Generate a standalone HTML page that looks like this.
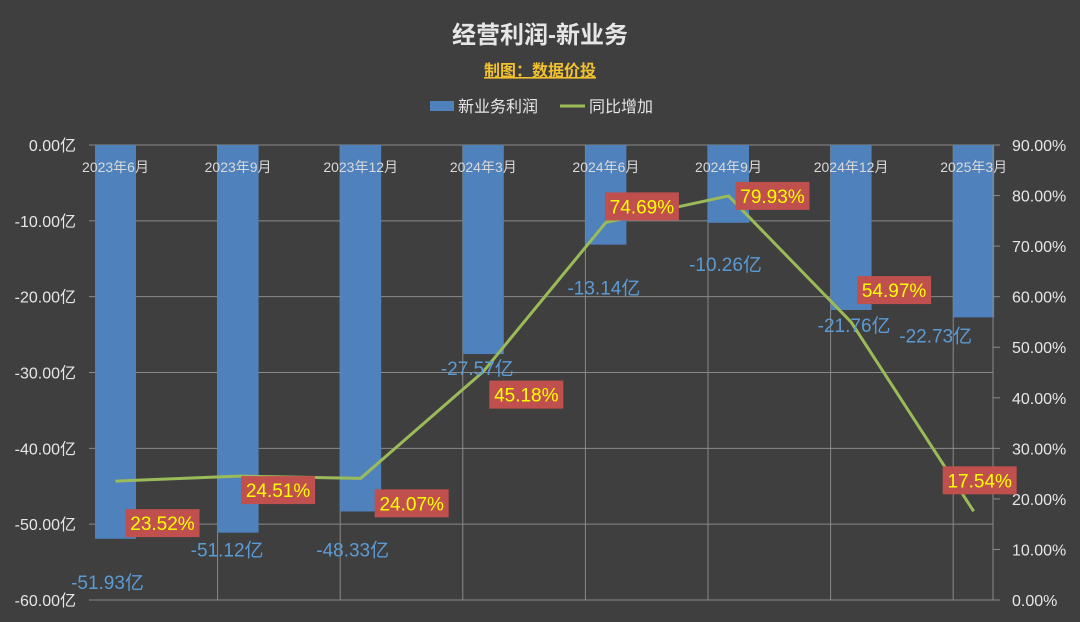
<!DOCTYPE html>
<html><head><meta charset="utf-8"><style>
body{margin:0;background:#3f3f3f;}
svg{display:block;font-family:"Liberation Sans","Noto Sans CJK SC",sans-serif;}
</style></head><body>
<svg id="c" width="1080" height="622">
<rect x="0" y="0" width="1080" height="622" fill="#3f3f3f"/>
<text x="540" y="43" text-anchor="middle" fill="#e6e6e6" font-size="24" font-weight="bold">经营利润-新业务</text>
<text x="540" y="76" text-anchor="middle" fill="#f2c12e" font-size="16" font-weight="bold" text-decoration="underline">制图：数据价投</text>
<g>
<rect x="430" y="101" width="24" height="10" fill="#4f81bd"/>
<text x="458" y="112" fill="#e6e6e6" font-size="16">新业务利润</text>
<line x1="560" y1="106" x2="585" y2="106" stroke="#9bbb59" stroke-width="3"/>
<text x="589" y="112" fill="#e6e6e6" font-size="16">同比增加</text>
</g>
<g id="grid"></g><g id="bars"></g><g id="axes"></g><g id="line"></g><g id="labels"></g>
</svg>
<script>
const categories=["2023年6月","2023年9月","2023年12月","2024年3月","2024年6月","2024年9月","2024年12月","2025年3月"];
const profit=[-51.93,-51.12,-48.33,-27.57,-13.14,-10.26,-21.76,-22.73];
const growth=[23.52,24.51,24.07,45.18,74.69,79.93,54.97,17.54];
const leftTicks=[0,-10,-20,-30,-40,-50,-60];
const rightTicks=[90,80,70,60,50,40,30,20,10,0];
const NS="http://www.w3.org/2000/svg";
const X0=89,X1=993,Y0=145,Y1=600,CAT0=95,CW=122.6,BW=41;
const yL=v=>Y0+(0-v)/60*(Y1-Y0);
const yR=v=>Y1-v/90*(Y1-Y0);
const xC=i=>CAT0+i*CW+BW/2;
function mk(p,t,a){const e=document.createElementNS(NS,t);for(const k in a)e.setAttribute(k,a[k]);document.getElementById(p).appendChild(e);return e;}
leftTicks.forEach(v=>{
 const g=mk('grid','line',{x1:X0,x2:X1,y1:yL(v),y2:yL(v),stroke:'#8a8a8a','stroke-width':1});
 
 
 const t=mk('axes','text',{x:76,y:yL(v)+6,'text-anchor':'end',fill:'#e6e6e6','font-size':16});
 t.textContent=v.toFixed(2)+'亿';
 
 
});
categories.forEach((c,i)=>{
 if(i>0){const g=mk('grid','line',{x1:CAT0+i*CW,x2:CAT0+i*CW,y1:Y0,y2:Y1,stroke:'#8a8a8a','stroke-width':1});
 
 }
 const b=mk('bars','rect',{x:CAT0+i*CW,y:Y0,width:BW,height:yL(profit[i])-Y0,fill:'#4f81bd'});
 
 
 const t=mk('axes','text',{x:xC(i),y:172,'text-anchor':'middle',fill:'#d9d9d9','font-size':14});
 t.textContent=c;
 
 
});
const ax=mk('axes','line',{x1:X1,x2:X1,y1:Y0,y2:Y1,stroke:'#8a8a8a'});


rightTicks.forEach(v=>{
 const k=mk('axes','line',{x1:X1,x2:X1+7,y1:yR(v),y2:yR(v),stroke:'#8a8a8a'});
 
 
 const t=mk('axes','text',{x:1012,y:yR(v)+6,fill:'#e6e6e6','font-size':16});
 t.textContent=v.toFixed(2)+'%';
 
 
});
const pts=growth.map((v,i)=>xC(i)+','+yR(v)).join(' ');
const pl=mk('line','polyline',{points:pts,fill:'none',stroke:'#9bbb59','stroke-width':3,'stroke-linejoin':'round'});


const pdx=[47,40,51,43,36,44,43,6],pdy=[42,14,25,23,-16,0,-32,-31];
const bdx=[-8,-11,-8,-6,-2,-3,3,-38],bdy=[44,18,39,15,44,42,16,19];
growth.forEach((v,i)=>{
 const cx=xC(i)+pdx[i],cy=yR(v)+pdy[i];
 const r=mk('labels','rect',{x:cx-37,y:cy-14,width:74,height:28,fill:'#c0504d'});
 
 
 const t=mk('labels','text',{x:cx,y:cy+7,'text-anchor':'middle',fill:'#ffff00','font-size':19});
 t.textContent=v.toFixed(2)+'%';
 
 
});
profit.forEach((v,i)=>{
 const t=mk('labels','text',{x:xC(i)+bdx[i],y:yL(v)+bdy[i]+6,'text-anchor':'middle',fill:'#5b9bd5','font-size':19});
 t.textContent=v.toFixed(2)+'亿';
 
 
});
</script>
</body></html>
